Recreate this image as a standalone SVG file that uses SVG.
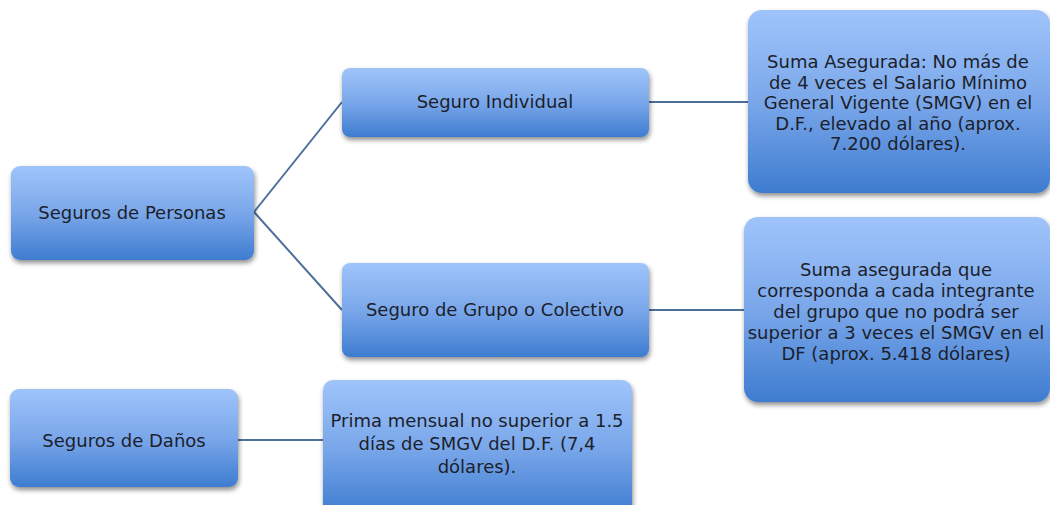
<svg xmlns="http://www.w3.org/2000/svg" width="1050" height="505" viewBox="0 0 1050 505">
<defs>
<linearGradient id="g" x1="0" y1="0" x2="0" y2="1">
<stop offset="0" stop-color="#9fc4fa"/>
<stop offset="0.5" stop-color="#7aa7ea"/>
<stop offset="1" stop-color="#3e7cd0"/>
</linearGradient>
<filter id="sh" x="-10%" y="-10%" width="125%" height="130%">
<feGaussianBlur in="SourceAlpha" stdDeviation="2.5"/>
<feOffset dx="1" dy="3" result="b"/>
<feComponentTransfer><feFuncA type="linear" slope="0.45"/></feComponentTransfer>
<feMerge><feMergeNode/><feMergeNode in="SourceGraphic"/></feMerge>
</filter>
</defs>
<style>
.box{fill:url(#g);filter:url(#sh)}
.t{font-family:"DejaVu Sans","Liberation Sans",sans-serif;font-size:18px;fill:#1c1f2b;text-anchor:middle}
.c{stroke:#4d6f9c;stroke-width:2;fill:none}
</style>
<rect width="1050" height="505" fill="#ffffff"/>
<g id="connectors">
<line class="c" x1="254" y1="212" x2="342" y2="102"/>
<line class="c" x1="254" y1="212" x2="342" y2="310"/>
<line class="c" x1="649" y1="102" x2="748" y2="102"/>
<line class="c" x1="649" y1="310" x2="744" y2="310"/>
<line class="c" x1="238" y1="440" x2="323" y2="440"/>
</g>
<g id="n1">
<rect class="box" x="11" y="166" width="243" height="94" rx="9"/>
<text class="t" x="132" y="219">Seguros de Personas</text>
</g>
<g id="n2">
<rect class="box" x="342" y="68" width="307" height="69" rx="8"/>
<text class="t" x="495" y="108">Seguro Individual</text>
</g>
<g id="n3">
<rect class="box" x="748" y="10" width="302" height="183" rx="14"/>
<text class="t" x="898" y="68">Suma Asegurada: No más de</text>
<text class="t" x="898" y="89">de 4 veces el Salario Mínimo</text>
<text class="t" x="898" y="109">General Vigente (SMGV) en el</text>
<text class="t" x="898" y="130">D.F., elevado al año (aprox.</text>
<text class="t" x="898" y="150">7.200 dólares).</text>
</g>
<g id="n4">
<rect class="box" x="342" y="263" width="307" height="94" rx="8"/>
<text class="t" x="495" y="316">Seguro de Grupo o Colectivo</text>
</g>
<g id="n5">
<rect class="box" x="744" y="217" width="306" height="185" rx="14"/>
<text class="t" x="896" y="276">Suma asegurada que</text>
<text class="t" x="896" y="297">corresponda a cada integrante</text>
<text class="t" x="896" y="318">del grupo que no podrá ser</text>
<text class="t" x="896" y="339">superior a 3 veces el SMGV en el</text>
<text class="t" x="896" y="360">DF (aprox. 5.418  dólares)</text>
</g>
<g id="n6">
<rect class="box" x="10" y="389" width="228" height="98" rx="9"/>
<text class="t" x="124" y="447">Seguros de Daños</text>
</g>
<g id="n7">
<rect class="box" x="323" y="380" width="309" height="135" rx="10"/>
<text class="t" x="477" y="427">Prima mensual no superior a 1.5</text>
<text class="t" x="477" y="450">días de SMGV del D.F. (7,4</text>
<text class="t" x="477" y="473">dólares).</text>
</g>
</svg>
